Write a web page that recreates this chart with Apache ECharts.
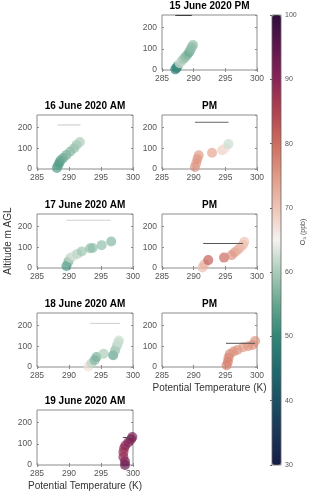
<!DOCTYPE html>
<html>
<head>
<meta charset="utf-8">
<script src="https://cdn.jsdelivr.net/npm/echarts@6/dist/echarts.min.js"></script>
<style>
  html, body { margin: 0; padding: 0; background: #fff; }
  #chart { width: 320px; height: 498px; }
</style>
</head>
<body>
<div id="chart"></div>
<script>
// potential temperature (K), altitude (m AGL), O3 (ppb) per profile
const theta15pm = [287.1, 287.3, 287.5, 287.8, 288.1, 288.4, 288.7, 289.0, 289.3, 289.5, 289.7, 289.9]
const alt15pm = [3, 10, 20, 32, 42, 52, 62, 72, 84, 96, 108, 118]
const o315pm = [48, 49, 51, 63, 61, 59, 58, 57, 55, 57, 58, 58]

const theta16am = [288.1, 288.3, 288.5, 288.7, 289.1, 289.6, 290.2, 290.8, 291.2, 291.7]
const alt16am = [5, 18, 30, 42, 53, 68, 84, 100, 116, 130]
const o316am = [53, 54, 53, 54, 55, 56, 57, 58, 59, 60]

const theta16pm = [290.2, 290.4, 290.6, 290.8, 292.9, 294.5, 295.0, 295.5]
const alt16pm = [10, 28, 48, 66, 78, 90, 100, 120]
const o316pm = [76, 75, 76, 75, 74, 69, 67, 62]

const theta17am = [289.6, 289.9, 290.2, 290.7, 291.3, 292.0, 293.3, 293.7, 295.1, 296.6]
const alt17am = [10, 30, 48, 58, 68, 80, 95, 96, 110, 128]
const o317am = [52, 56, 61, 63, 61, 59, 58, 58, 58, 57]

const theta17pm = [291.4, 291.7, 292.3, 294.8, 296.0, 296.5, 297.0, 297.4, 297.8, 298.0]
const alt17pm = [3, 18, 38, 50, 62, 76, 88, 100, 112, 126]
const o317pm = [71, 72, 82, 81, 76, 75, 73, 72, 71, 70]

const theta18am = [293.0, 293.5, 294.0, 294.3, 295.4, 296.9, 297.2, 297.5, 297.7, 297.8]
const alt18am = [2, 18, 33, 48, 64, 57, 80, 103, 118, 128]
const o318am = [67, 61, 57, 56, 60, 54, 58, 60, 62, 62]

const theta18pm = [295.2, 295.4, 295.5, 295.7, 296.3, 296.9, 297.8, 298.6, 299.3, 299.7]
const alt18pm = [8, 25, 45, 62, 75, 82, 95, 100, 106, 125]
const o318pm = [78, 78, 78, 77, 76, 76, 75, 75, 76, 76]

const theta19am = [298.75, 298.75, 298.5, 298.5, 298.6, 298.8, 299.3, 299.7, 299.9]
const alt19am = [0, 16, 38, 60, 78, 92, 108, 122, 132]
const o319am = [95, 93, 90, 88, 88, 90, 91, 92, 92]

// boundary layer segments: [theta start, theta end, altitude]
const blh15pm = [287.1, 289.7, 258]
const blh16am = [288.2, 291.8, 212]
const blh16pm = [290.2, 295.5, 225]
const blh17am = [289.6, 296.5, 230]
const blh17pm = [291.5, 297.8, 118]
const blh18am = [293.3, 298.0, 210]
const blh18pm = [295.1, 299.7, 114]
const blh19am = [298.4, 299.8, 130]

const titles = ['15 June 2020 PM', '16 June 2020 AM', 'PM', '17 June 2020 AM', 'PM', '18 June 2020 AM', 'PM', '19 June 2020 AM']
const cbTicks = [30, 100, 10] // min, max, step
const curl = ['#151d44', '#1b3656', '#1b5064', '#1f6b6f', '#2f8778', '#66a68f', '#a9cbb8', '#f5f2ef',
  '#eec4b6', '#e09a85', '#cd6d5d', '#b0434f', '#8a2457', '#5f164d', '#2f0f3d']

const FONT = 'Liberation Sans, Arial, sans-serif'
const AXIS_GRAY = '#8c8c8c'

const panels = [
  { theta: theta15pm, alt: alt15pm, o3: o315pm, blh: blh15pm, col: 1, row: 0, line: '#333333' },
  { theta: theta16am, alt: alt16am, o3: o316am, blh: blh16am, col: 0, row: 1, line: '#c9c9c9' },
  { theta: theta16pm, alt: alt16pm, o3: o316pm, blh: blh16pm, col: 1, row: 1, line: '#666666' },
  { theta: theta17am, alt: alt17am, o3: o317am, blh: blh17am, col: 0, row: 2, line: '#d0d0d0' },
  { theta: theta17pm, alt: alt17pm, o3: o317pm, blh: blh17pm, col: 1, row: 2, line: '#555555' },
  { theta: theta18am, alt: alt18am, o3: o318am, blh: blh18am, col: 0, row: 3, line: '#d0d0d0' },
  { theta: theta18pm, alt: alt18pm, o3: o318pm, blh: blh18pm, col: 1, row: 3, line: '#555555' },
  { theta: theta19am, alt: alt19am, o3: o319am, blh: blh19am, col: 0, row: 4, line: '#555555' },
]

const rowTop = [15, 115, 214, 313, 410]
const rowH = [55, 54, 54, 54, 55]
const colLeft = [37, 162]
const colW = [96, 95]

const grids = []
const xAxes = []
const yAxes = []
const series = []
const titleOpts = []

const tickStyle = { show: true, inside: true, length: 2, lineStyle: { color: AXIS_GRAY } }

panels.forEach((p, i) => {
  const left = colLeft[p.col]
  const top = rowTop[p.row]
  const width = colW[p.col]
  grids.push({ left, top, width, height: rowH[p.row], show: true, borderColor: AXIS_GRAY, borderWidth: 1 })
  titleOpts.push({
    text: titles[i], left: left + width / 2, top: top - 14, textAlign: 'center', padding: 0,
    textStyle: { fontSize: 10, fontWeight: 'bold', color: '#000', fontFamily: FONT },
  })
  const hasXName = i === 6 || i === 7
  xAxes.push({
    gridIndex: i, type: 'value', min: 285, max: 300, interval: 5,
    name: hasXName ? 'Potential Temperature (K)' : '',
    nameLocation: 'middle', nameGap: 16,
    nameTextStyle: { fontSize: 10, color: '#333', fontFamily: FONT },
    axisLine: { show: false },
    axisTick: tickStyle,
    splitLine: { show: false },
    axisLabel: { fontSize: 8.5, color: '#555', margin: 4, fontFamily: FONT },
  })
  yAxes.push({
    gridIndex: i, type: 'value', min: 0, max: 260, interval: 100,
    name: i === 3 ? 'Altitude m AGL' : '',
    nameLocation: 'middle', nameGap: 24, nameRotate: 90,
    nameTextStyle: { fontSize: 10, color: '#333', fontFamily: FONT },
    axisLine: { show: false },
    axisTick: tickStyle,
    splitLine: { show: false },
    axisLabel: { fontSize: 8.5, color: '#555', margin: 5, showMaxLabel: false, fontFamily: FONT },
  })
  series.push({
    type: 'scatter', xAxisIndex: i, yAxisIndex: i, clip: false,
    symbolSize: 10, itemStyle: { opacity: 0.68 }, z: 2,
    data: p.theta.map((t, k) => [t, p.alt[k], p.o3[k]]),
  })
})

panels.forEach((p, i) => {
  series.push({
    type: 'line', xAxisIndex: i, yAxisIndex: i, symbol: 'none', silent: true, z: 3,
    lineStyle: { color: p.line, width: 1 },
    data: [[p.blh[0], p.blh[2]], [p.blh[1], p.blh[2]]],
  })
})

// colour bar axis
grids.push({ left: 272, top: 15, width: 9, height: 450, show: true, borderColor: '#666', borderWidth: 0.8, z: 10 })
xAxes.push({ gridIndex: 8, type: 'value', show: false })
yAxes.push({
  gridIndex: 8, type: 'value', min: cbTicks[0], max: cbTicks[1], interval: cbTicks[2], position: 'right', z: 10,
  axisLine: { show: false },
  axisTick: { show: true, inside: true, length: 2, lineStyle: { color: '#666' } },
  splitLine: { show: false },
  axisLabel: { fontSize: 7, color: '#555', margin: 4, fontFamily: FONT },
})

// box ticks on the top and right edges (no labels)
panels.forEach((p, i) => {
  xAxes.push({
    gridIndex: i, type: 'value', min: 285, max: 300, interval: 5, position: 'top',
    axisLine: { show: false }, axisTick: tickStyle, axisLabel: { show: false }, splitLine: { show: false },
  })
  yAxes.push({
    gridIndex: i, type: 'value', min: 0, max: 260, interval: 100, position: 'right',
    axisLine: { show: false }, axisTick: tickStyle, axisLabel: { show: false }, splitLine: { show: false },
  })
})

const chart = echarts.init(document.getElementById('chart'), null, { renderer: 'canvas' })
chart.setOption({
  animation: false,
  backgroundColor: '#fff',
  title: titleOpts,
  grid: grids,
  xAxis: xAxes,
  yAxis: yAxes,
  visualMap: {
    type: 'continuous', min: cbTicks[0], max: cbTicks[1], dimension: 2,
    seriesIndex: [0, 1, 2, 3, 4, 5, 6, 7],
    calculable: false, hoverLink: false,
    itemWidth: 9, itemHeight: 450, left: 272, top: 15, padding: 0,
    inRange: { color: curl },
  },
  graphic: [{
    type: 'text', x: 303, y: 232, rotation: Math.PI / 2,
    style: { text: 'O₃ (ppb)', fontSize: 7, fill: '#444', align: 'center', verticalAlign: 'middle', fontFamily: FONT },
  }],
  series,
})
</script>
</body>
</html>
